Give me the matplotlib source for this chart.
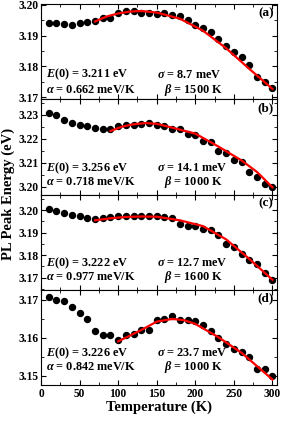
import numpy as np
import matplotlib
matplotlib.use('Agg')
import matplotlib.pyplot as plt
from matplotlib.ticker import MultipleLocator

plt.rcParams['font.family'] = 'Liberation Serif'
plt.rcParams['font.weight'] = 'bold'
plt.rcParams['mathtext.fontset'] = 'custom'
plt.rcParams['mathtext.it'] = 'Liberation Serif:italic:bold'
plt.rcParams['mathtext.rm'] = 'Liberation Serif:bold'

# Temperatures of the measured points (K)
temp = [10, 20, 30, 40, 50, 60, 70, 80, 90, 100, 110, 120, 130, 140, 150,
        160, 170, 180, 190, 200, 210, 220, 230, 240, 250, 260, 270, 280, 290, 300]

# Measured PL peak energies (eV)
peak_a = [3.1942, 3.1940, 3.1938, 3.1936, 3.1940, 3.1944, 3.1947, 3.1958, 3.1958, 3.1975,
          3.1980, 3.1980, 3.1975, 3.1974, 3.1971, 3.1972, 3.1966, 3.1963, 3.1952, 3.1936,
          3.1924, 3.1912, 3.1888, 3.1867, 3.1848, 3.1831, 3.1805, 3.1767, 3.1750, 3.1730]
peak_b = [3.2306, 3.2297, 3.2279, 3.2267, 3.2259, 3.2251, 3.2245, 3.2242, 3.2242, 3.2251,
          3.2257, 3.2259, 3.2260, 3.2267, 3.2257, 3.2253, 3.2240, 3.2239, 3.2218, 3.2214,
          3.2191, 3.2184, 3.2150, 3.2139, 3.2112, 3.2102, 3.2061, 3.2038, 3.2011, 3.2000]
peak_c = [3.2004, 3.1997, 3.1987, 3.1977, 3.1972, 3.1966, 3.1962, 3.1965, 3.1969, 3.1972,
          3.1972, 3.1972, 3.1972, 3.1975, 3.1975, 3.1969, 3.1965, 3.1939, 3.1929, 3.1929,
          3.1917, 3.1914, 3.1888, 3.1848, 3.1838, 3.1805, 3.1779, 3.1761, 3.1722, 3.1689]
peak_d = [3.1706, 3.1700, 3.1696, 3.1681, 3.1665, 3.1650, 3.1618, 3.1608, 3.1606, 3.1595,
          3.1606, 3.1610, 3.1621, 3.1621, 3.1647, 3.1650, 3.1656, 3.1646, 3.1646, 3.1643,
          3.1634, 3.1618, 3.1599, 3.1582, 3.1570, 3.1562, 3.1548, 3.1518, 3.1518, 3.1498]

# Fitted curves
fit_t_a = [70, 85, 100, 115, 130, 150, 180, 210, 240, 270, 300]
fit_e_a = [3.1946, 3.1962, 3.1972, 3.1978, 3.1980, 3.1975, 3.1955, 3.1916, 3.1859, 3.1792, 3.1727]
fit_t_b = [90, 105, 120, 135, 150, 170, 200, 230, 260, 280, 300]
fit_e_b = [3.2232, 3.2250, 3.2260, 3.2265, 3.2262, 3.2246, 3.2221, 3.2167, 3.2109, 3.2061, 3.1997]
fit_t_c = [70, 90, 110, 130, 150, 180, 210, 240, 270, 300]
fit_e_c = [3.1955, 3.1964, 3.1970, 3.1972, 3.1971, 3.1955, 3.1929, 3.1870, 3.1783, 3.1690]
fit_t_d = [100, 115, 130, 150, 170, 185, 200, 230, 260, 280, 300]
fit_e_d = [3.1590, 3.1605, 3.1620, 3.1642, 3.1649, 3.1646, 3.1636, 3.1601, 3.1560, 3.1525, 3.1490]

labels = ['(a)', '(b)', '(c)', '(d)']
param_e0 = ['3.211', '3.256', '3.222', '3.226']
param_sigma = ['8.7', '14.1', '12.7', '23.7']
param_alpha = ['0.662', '0.718', '0.977', '0.842']
param_beta = ['1500', '1000', '1600', '1000']

ylims = [(3.1693, 3.2002), (3.1967, 3.2364), (3.1646, 3.2070), (3.1476, 3.1726)]
yticks = [[3.17, 3.18, 3.19, 3.20], [3.20, 3.21, 3.22, 3.23],
          [3.17, 3.18, 3.19, 3.20], [3.15, 3.16, 3.17]]
text_y = [(0.26, 0.10), (0.28, 0.13), (0.28, 0.13), (0.33, 0.19)]

peaks = [peak_a, peak_b, peak_c, peak_d]
fits = [(fit_t_a, fit_e_a), (fit_t_b, fit_e_b), (fit_t_c, fit_e_c), (fit_t_d, fit_e_d)]

fig = plt.figure(figsize=(2.81, 4.21), dpi=100)
gs = fig.add_gridspec(4, 1, left=0.146, right=0.986, top=0.99, bottom=0.086, hspace=0)

for i in range(4):
    ax = fig.add_subplot(gs[i])
    ax.plot(temp, peaks[i], 'o', color='black', ms=4.3, zorder=2)
    ax.plot(fits[i][0], fits[i][1], '-', color='red', lw=1.6, zorder=3)
    ax.set_xlim(0, 306)
    ax.set_ylim(*ylims[i])
    ax.set_yticks(yticks[i])
    ax.set_yticklabels(['%.2f' % v for v in yticks[i]])
    ax.yaxis.set_minor_locator(MultipleLocator(0.005))
    ax.xaxis.set_major_locator(MultipleLocator(50))
    ax.xaxis.set_minor_locator(MultipleLocator(25))
    ax.tick_params(which='both', direction='in', top=True, right=True, labelsize=8.3, pad=2)
    ax.tick_params(which='major', length=3.5, width=0.8)
    ax.tick_params(which='minor', length=2, width=0.6)
    if i < 3:
        ax.tick_params(labelbottom=False)
    ax.text(0.985, 0.97, labels[i], transform=ax.transAxes, ha='right', va='top',
            fontsize=9.5, fontweight='bold')
    y1, y2 = text_y[i]
    ax.text(0.02, y1, r'$E$(0) = ' + param_e0[i] + ' eV', transform=ax.transAxes,
            va='center', fontsize=8.8, fontweight='bold')
    ax.text(0.49, y1, r'$\sigma$ = ' + param_sigma[i] + ' meV', transform=ax.transAxes,
            va='center', fontsize=8.8, fontweight='bold')
    ax.text(0.02, y2, r'$\alpha$ = ' + param_alpha[i] + ' meV/K', transform=ax.transAxes,
            va='center', fontsize=8.8, fontweight='bold')
    ax.text(0.52, y2, r'$\beta$ = ' + param_beta[i] + ' K', transform=ax.transAxes,
            va='center', fontsize=8.8, fontweight='bold')
    if i == 3:
        ax.set_xlabel('Temperature (K)', fontsize=10.5, fontweight='bold', labelpad=1)

fig.text(0.03, 0.54, 'PL Peak Energy (eV)', rotation=90, ha='center', va='center',
         fontsize=10.5, fontweight='bold')

fig.savefig('out.png', dpi=100)
